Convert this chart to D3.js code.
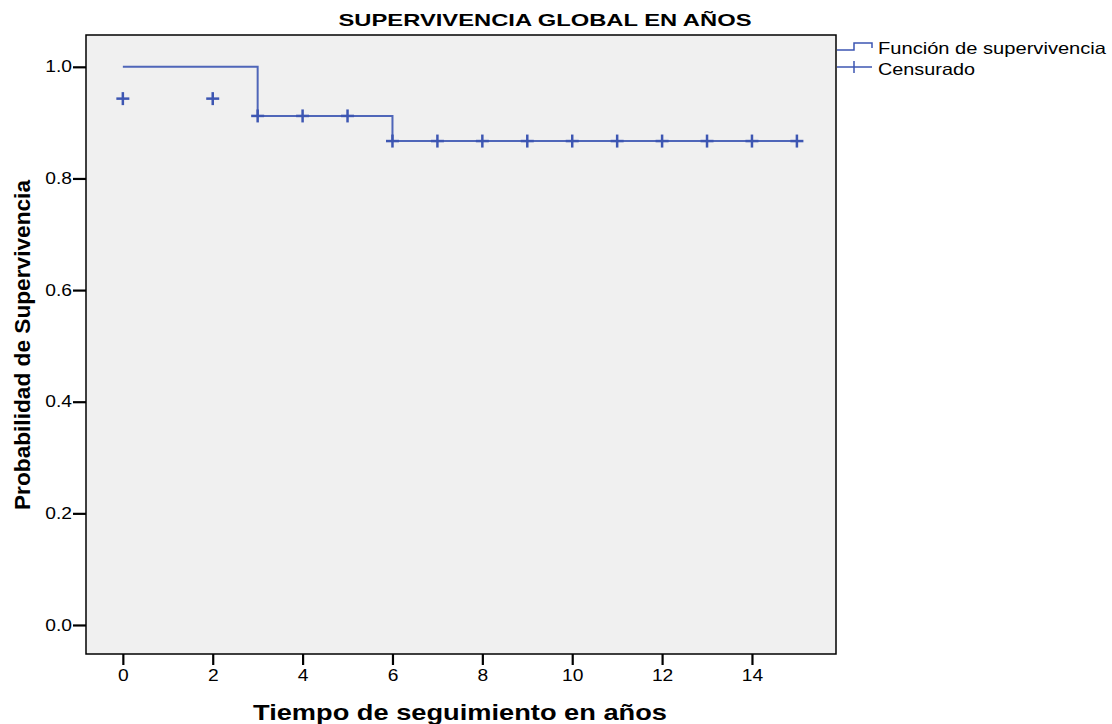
<!DOCTYPE html>
<html>
<head>
<meta charset="utf-8">
<script src="https://cdn.jsdelivr.net/npm/d3@7"></script>
<style>
  body { margin: 0; background: #fff; }
  text { font-family: "Liberation Sans", Arial, sans-serif; }
</style>
</head>
<body>
<script>
// survival step function (time, probability)
var stepTimes = [0, 3, 6, 15];
var stepSurv = [1.0, 0.912, 0.867, 0.867];

// censored observations
var censorTimes = [0, 2, 3, 4, 5, 6, 7, 8, 9, 10, 11, 12, 13, 14, 15];
var censorSurv = [0.943, 0.943, 0.912, 0.912, 0.912, 0.867, 0.867, 0.867, 0.867, 0.867, 0.867, 0.867, 0.867, 0.867, 0.867];

var xTicks = [0, 2, 4, 6, 8, 10, 12, 14];
var yTicks = [0.0, 0.2, 0.4, 0.6, 0.8, 1.0];

var svgWidth = 1112;
var svgHeight = 724;

var plot = { left: 86, top: 35, right: 836, bottom: 654 };
var blue = "#3d56b2";

var svg = d3.select("body")
  .append("svg")
  .attr("width", svgWidth)
  .attr("height", svgHeight);

var x = d3.scaleLinear()
  .domain([-0.82, 15.87])
  .range([plot.left, plot.right]);

var y = d3.scaleLinear()
  .domain([-0.052, 1.057])
  .range([plot.bottom, plot.top]);

// plot background
svg.append("rect")
  .attr("x", plot.left)
  .attr("y", plot.top)
  .attr("width", plot.right - plot.left)
  .attr("height", plot.bottom - plot.top)
  .attr("fill", "#f0f0f0")
  .attr("stroke", "#000")
  .attr("stroke-width", 1.5);

// axes
var leftAxis = d3.axisLeft(y).tickValues(yTicks).tickFormat(d3.format(".1f")).tickSize(13).tickPadding(1);
var bottomAxis = d3.axisBottom(x).tickValues(xTicks).tickFormat(d3.format("d")).tickSize(11).tickPadding(5);

var gy = svg.append("g")
  .attr("transform", `translate(${plot.left},0)`)
  .call(leftAxis);
var gx = svg.append("g")
  .attr("transform", `translate(0,${plot.bottom})`)
  .call(bottomAxis);

[gx, gy].forEach(function(g) {
  g.attr("font-size", 16).attr("font-family", "'Liberation Sans', Arial, sans-serif");
  g.select(".domain").remove();
  g.selectAll(".tick line").attr("stroke", "#000").attr("stroke-width", 2.2);
  // SPSS labels are drawn a bit wider than the font
  g.selectAll(".tick text")
    .attr("fill", "#000")
    .each(function() {
      var w = this.getComputedTextLength();
      d3.select(this).attr("textLength", w * 1.2).attr("lengthAdjust", "spacingAndGlyphs");
    });
});

// survival line
var steps = stepTimes.map(function(t, i) { return { t: t, s: stepSurv[i] }; });
var line = d3.line()
  .x(d => x(d.t))
  .y(d => y(d.s))
  .curve(d3.curveStepAfter);

svg.append("path")
  .datum(steps)
  .attr("d", line)
  .attr("fill", "none")
  .attr("stroke", blue)
  .attr("stroke-width", 2)
  .attr("stroke-opacity", 0.9);

// censor marks
var censored = censorTimes.map(function(t, i) { return { t: t, s: censorSurv[i] }; });
var markSize = 6.5;
var marks = svg.append("g").selectAll("g")
  .data(censored)
  .enter().append("g")
  .attr("transform", d => `translate(${x(d.t)},${y(d.s)})`);

marks.append("line")
  .attr("x1", -markSize).attr("x2", markSize)
  .attr("y1", 0).attr("y2", 0)
  .attr("stroke", blue).attr("stroke-width", 2.5);
marks.append("line")
  .attr("x1", 0).attr("x2", 0)
  .attr("y1", -markSize).attr("y2", markSize)
  .attr("stroke", blue).attr("stroke-width", 2.5);

// title
svg.append("text")
  .attr("x", 545)
  .attr("y", 26)
  .attr("text-anchor", "middle")
  .attr("font-weight", "bold")
  .attr("font-size", 17)
  .attr("textLength", 413)
  .attr("lengthAdjust", "spacingAndGlyphs")
  .text("SUPERVIVENCIA GLOBAL EN AÑOS");

// axis titles
svg.append("text")
  .attr("x", 460)
  .attr("y", 720)
  .attr("text-anchor", "middle")
  .attr("font-weight", "bold")
  .attr("font-size", 22)
  .attr("textLength", 414)
  .attr("lengthAdjust", "spacingAndGlyphs")
  .text("Tiempo de seguimiento en años");

svg.append("text")
  .attr("transform", "translate(30,345) rotate(-90)")
  .attr("text-anchor", "middle")
  .attr("font-weight", "bold")
  .attr("font-size", 22)
  .attr("textLength", 330)
  .attr("lengthAdjust", "spacingAndGlyphs")
  .text("Probabilidad de Supervivencia");

// legend
var legend = svg.append("g");
legend.append("path")
  .attr("d", "M837,50 H854 V43 H872 V48")
  .attr("fill", "none")
  .attr("stroke", blue)
  .attr("stroke-width", 1.5);
legend.append("line")
  .attr("x1", 837).attr("x2", 872)
  .attr("y1", 67).attr("y2", 67)
  .attr("stroke", blue).attr("stroke-width", 1.5);
legend.append("line")
  .attr("x1", 854).attr("x2", 854)
  .attr("y1", 61).attr("y2", 73)
  .attr("stroke", blue).attr("stroke-width", 1.5);

legend.append("text")
  .attr("x", 878).attr("y", 54)
  .attr("font-size", 16.5)
  .attr("textLength", 228)
  .attr("lengthAdjust", "spacingAndGlyphs")
  .text("Función de supervivencia");
legend.append("text")
  .attr("x", 878).attr("y", 75)
  .attr("font-size", 16.5)
  .attr("textLength", 97)
  .attr("lengthAdjust", "spacingAndGlyphs")
  .text("Censurado");
</script>
</body>
</html>
